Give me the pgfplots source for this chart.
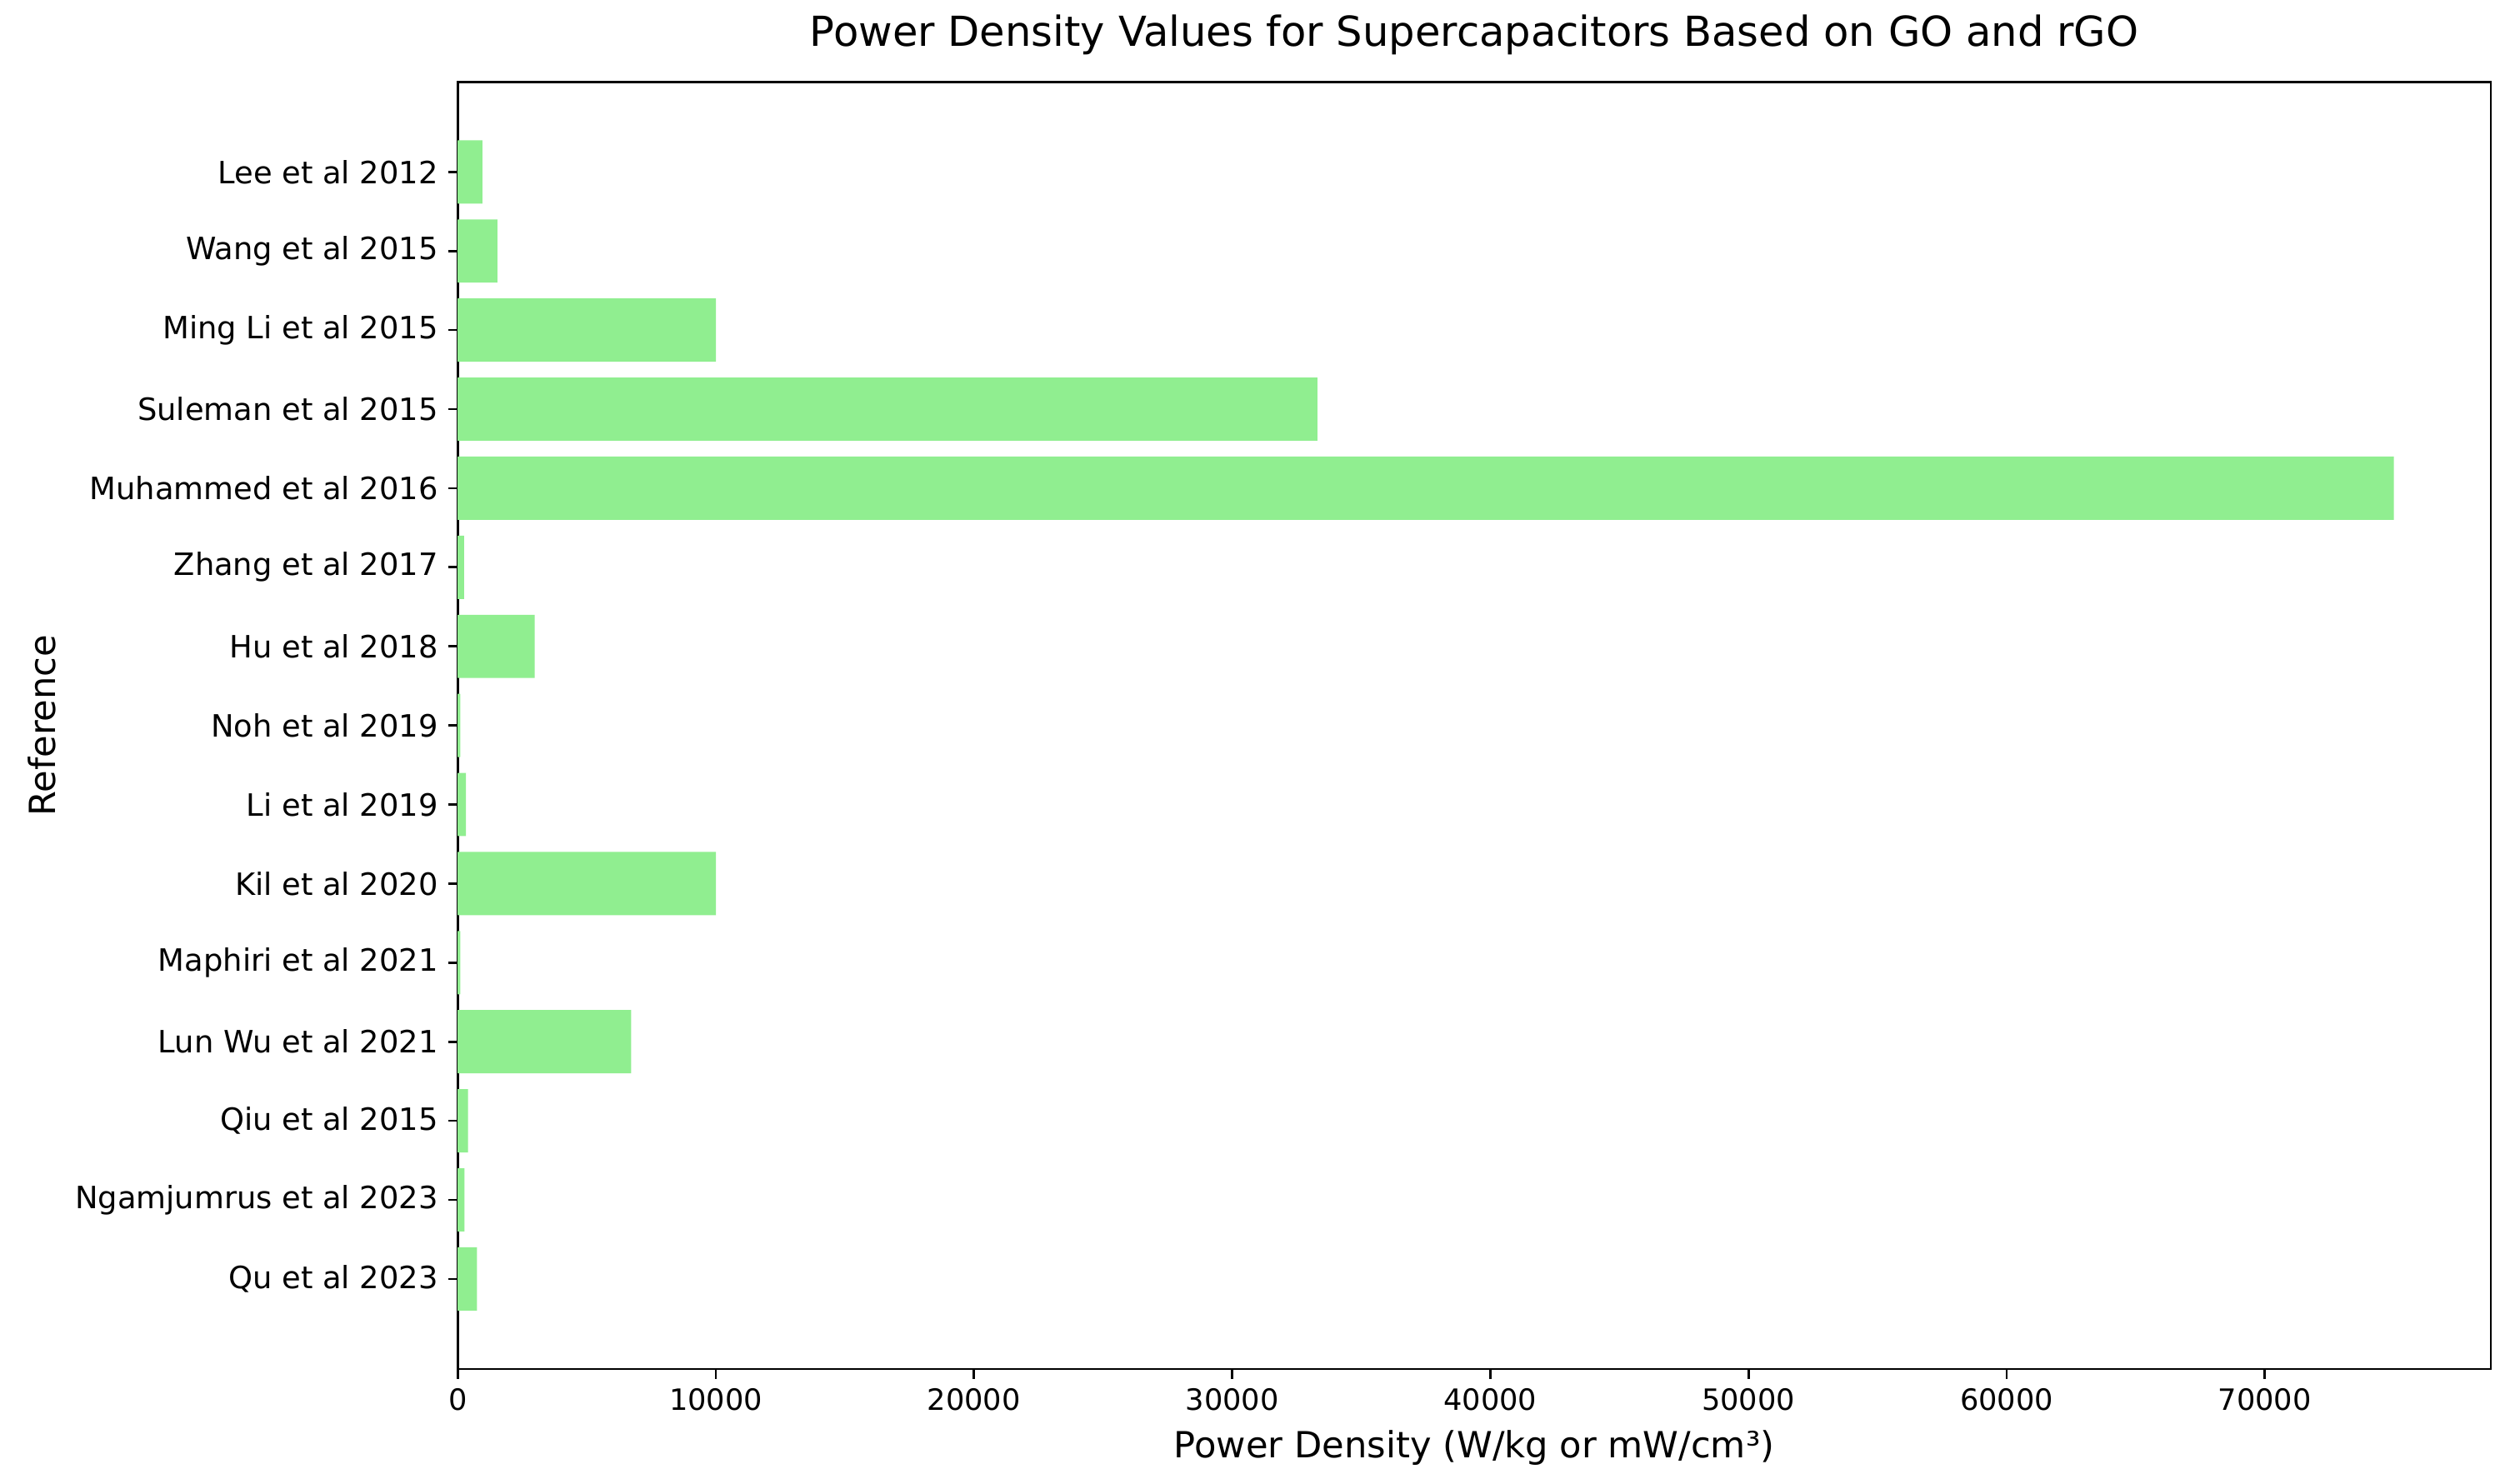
\documentclass[border=0pt]{standalone}
\usepackage{pgfplots}
\pgfplotsset{compat=1.18}
\usepackage{fontspec}
\setmainfont{DejaVu Sans}
\definecolor{lightgreen}{RGB}{144,238,144}
\begin{document}
\begin{tikzpicture}
\begin{axis}[
  scale only axis, width=728pt, height=461pt,
  xbar, bar width=0.8,
  xmin=0, xmax=78750, ymin=-1.14, ymax=15.14, y dir=reverse,
  ytick={0,...,14},
  yticklabels={Lee et al 2012, Wang et al 2015, Ming Li et al 2015, Suleman et al 2015, Muhammed et al 2016, Zhang et al 2017, Hu et al 2018, Noh et al 2019, Li et al 2019, Kil et al 2020, Maphiri et al 2021, Lun Wu et al 2021, Qiu et al 2015, Ngamjumrus et al 2023, Qu et al 2023},
  xtick={0,10000,...,70000},
  /pgf/number format/assume math mode=true,
  /pgf/number format/set thousands separator={},
  scaled x ticks=false,
  tick align=outside, xtick pos=bottom, ytick pos=left,
  major tick length=3.5pt,
  axis line style={line width=0.8pt, black},
  every tick/.style={black, line width=0.8pt},
  yticklabel style={font=\fontsize{11}{13}\selectfont},
  xticklabel style={font=\fontsize{10.5}{12.5}\selectfont},
  label style={font=\fontsize{12.9}{15}\selectfont},
  title style={font=\fontsize{14.8}{17.5}\selectfont},
  title={Power Density Values for Supercapacitors Based on GO and rGO},
  xlabel={Power Density (W/kg or mW/cm³)},
  ylabel={Reference},
]
\addplot[fill=lightgreen, draw=none] coordinates {
(960,0) (1540,1) (10000,2) (33300,3) (75000,4) (250,5) (2980,6) (100,7) (320,8) (10000,9) (100,10) (6720,11) (400,12) (260,13) (750,14)
};
\end{axis}
\pgfresetboundingbox
\path ([xshift=-163.9pt,yshift=-41pt]current axis.south west) rectangle ([xshift=8.7pt,yshift=29.3pt]current axis.north east);
\end{tikzpicture}
\end{document}
